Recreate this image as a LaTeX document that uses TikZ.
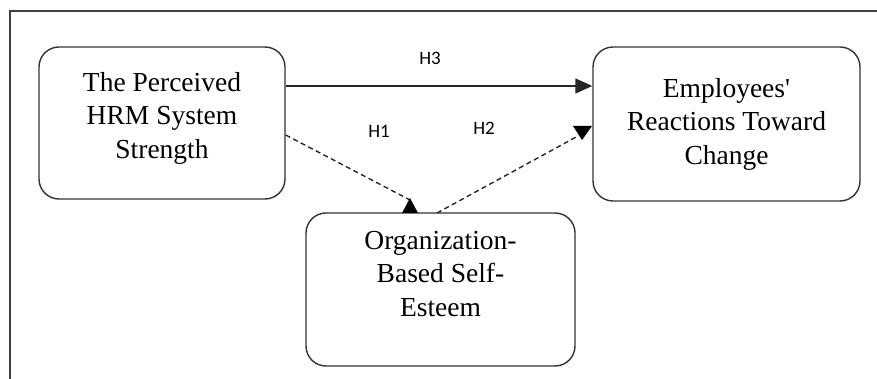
\documentclass[tikz,border=0pt]{standalone}
\usepackage{fontspec}
\setmainfont{Liberation Serif}
\newfontfamily\hfont{Carlito}
\usetikzlibrary{arrows.meta}
\begin{document}
\begin{tikzpicture}[x=1pt,y=-1pt,
  box/.style={draw=black!80, line width=1.4pt, rounded corners=20pt, fill=white},
  boxtext/.style={align=center, font=\fontsize{27.5}{33.5}\selectfont, inner sep=0pt},
  hyp/.style={font=\hfont\fontsize{19}{22}\selectfont, inner sep=0pt},
  link/.style={draw=black!85, line width=1.4pt},
  dashlink/.style={link, dash pattern=on 5pt off 3.5pt},
  tipfill/.style={fill=black}]
  \useasboundingbox (0,0) rectangle (877,379);
  % outer frame (open at right and bottom)
  \draw[black!75, line width=1.5pt] (10,379) -- (10,11) -- (877,11);

  % construct boxes
  \node[box, minimum width=246pt, minimum height=152pt] (hrm) at (162,123) {};
  \node[box, minimum width=267pt, minimum height=154pt] (erc) at (726.5,124) {};
  \node[box, minimum width=269pt, minimum height=153pt] (obse) at (440.5,289.5) {};

  \node[boxtext] (hrmtext) at (162,118) {The Perceived\\HRM System\\Strength};
  \node[boxtext] (erctext) at (726.5,124) {Employees\textquotesingle\\Reactions Toward\\Change};
  \node[boxtext] (obsetext) at (440.5,274) {Organization-\\Based Self-\\Esteem};

  % H3: direct path
  \coordinate (h3s) at (hrm.east |- 0,86);
  \coordinate (h3e) at (erc.west |- 0,86);
  \draw[link, -{Triangle[length=17pt,width=15pt]}] (h3s) -- (h3e);

  % H1: strength -> self-esteem
  \coordinate (h1s) at (hrm.east |- 0,135);
  \coordinate (h1e) at (410,200);
  \draw[dashlink] (h1s) -- (h1e);
  \fill[tipfill] (410,198) -- (418,213) -- (402,213) -- cycle;

  % H2: self-esteem -> reactions
  \coordinate (h2s) at (437,213);
  \coordinate (h2e) at (578,136);
  \draw[dashlink] (h2s) -- (h2e);
  \fill[tipfill] (573,126) -- (592,126) -- (582,140) -- cycle;

  % hypothesis labels
  \node[hyp] (lh3) at (430,58) {H3};
  \node[hyp] (lh1) at (379,131) {H1};
  \node[hyp] (lh2) at (484,128) {H2};
\end{tikzpicture}
\end{document}
